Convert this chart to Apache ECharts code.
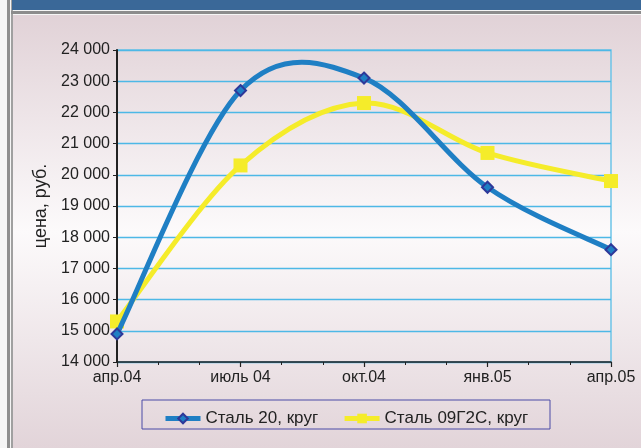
<!DOCTYPE html>
<html><head><meta charset="utf-8">
<script src="https://cdn.jsdelivr.net/npm/echarts@6/dist/echarts.min.js"></script>
<style>html,body{margin:0;padding:0;background:#f5f5f5}#c{width:641px;height:448px}</style>
</head><body><div id="c"></div>
<script>
var monthLabels = ['апр.04','','','июль 04','','','окт.04','','','янв.05','','','апр.05'];
var pointMonths = [0, 3, 6, 9, 12];
var steel20 = [14900, 22700, 23100, 19600, 17600];
var steel09 = [15300, 20300, 22300, 20700, 19800];
var seriesNames = ['Сталь 20, круг', 'Сталь 09Г2С, круг'];
var yTicks = {min: 14000, max: 24000, interval: 1000};

function pairs(xs, ys){ return xs.map(function(x,i){ return [x, ys[i]]; }); }
function fmt(v){ return String(v).replace(/\B(?=(\d{3})+(?!\d))/g, ' '); }

// Excel-style (Catmull-Rom) smoothed curve through the data, positioned by the chart's scales
function curveSeries(data, color, z){
  return {
    type: 'custom', silent: true, z: z, data: data, encode: {x: 0, y: 1},
    renderItem: function(params, api){
      if (params.dataIndex !== 0) return null;
      var p = data.map(function(d){ return api.coord(d); });
      var n = p.length, s = 'M' + p[0][0] + ' ' + p[0][1];
      for (var i = 0; i < n - 1; i++){
        var p0 = p[Math.max(i-1,0)], p1 = p[i], p2 = p[i+1], p3 = p[Math.min(i+2,n-1)];
        var c1 = [p1[0] + (p2[0]-p0[0])/6, p1[1] + (p2[1]-p0[1])/6];
        var c2 = [p2[0] - (p3[0]-p1[0])/6, p2[1] - (p3[1]-p1[1])/6];
        s += ' C' + c1[0] + ' ' + c1[1] + ' ' + c2[0] + ' ' + c2[1] + ' ' + p2[0] + ' ' + p2[1];
      }
      return {type: 'path', shape: {pathData: s}, style: {fill: 'none', stroke: color, lineWidth: 5, lineJoin: 'round', lineCap: 'round'}};
    }
  };
}

var chart = echarts.init(document.getElementById('c'));
var font = 'Liberation Sans, Arial, sans-serif';
var d20 = pairs(pointMonths, steel20), d09 = pairs(pointMonths, steel09);
chart.setOption({
  animation: false,
  textStyle: {fontFamily: font},
  graphic: [
    {type:'rect', z:-10, shape:{x:0,y:0,width:641,height:448}, style:{fill:'#f5f5f5'}},
    {type:'rect', z:-9, shape:{x:13,y:15,width:628,height:433}, style:{fill:{type:'linear',x:0,y:0,x2:0,y2:1,colorStops:[{offset:0,color:'#e1d2d7'},{offset:0.5,color:'#fcfafb'},{offset:1,color:'#e2d4d9'}]}}},
    {type:'rect', z:-8, shape:{x:7,y:0,width:3,height:448}, style:{fill:'#8e8e8e'}},
    {type:'rect', z:-8, shape:{x:11,y:0,width:2,height:448}, style:{fill:'#a0a0a0'}},
    {type:'rect', z:-8, shape:{x:12,y:0,width:629,height:10}, style:{fill:'#3a6898'}},
    {type:'rect', z:-8, shape:{x:11,y:11,width:630,height:3}, style:{fill:'#8c8c8c'}},
    {type:'rect', z:-7, shape:{x:142,y:400,width:408,height:29}, style:{fill:'none', stroke:'#4b4ba6', lineWidth:1}}
  ],
  grid: {left:117, right:30, top:50, bottom:86, show:true, borderColor:'#6cc4e8', borderWidth:1.5, backgroundColor:'transparent'},
  legend: {
    data: [
      {name: seriesNames[0], lineStyle: {color:'#1f7fc4', width:5, opacity:1}},
      {name: seriesNames[1], lineStyle: {color:'#f5ec2a', width:5, opacity:1}}
    ],
    left: 158, top: 405, itemWidth: 35, itemHeight: 12, itemGap: 24,
    textStyle: {fontSize: 17, color: '#222', fontFamily: font}
  },
  xAxis: {
    type: 'value', min: 0, max: 12, interval: 3,
    axisLine: {show:true, onZero:false, lineStyle:{color:'#222', width:1.5}},
    axisTick: {show:true, length:5, lineStyle:{color:'#222', width:1.2}},
    minorTick: {show:true, splitNumber:3, length:3, lineStyle:{color:'#222', width:1}},
    splitLine: {show:false},
    axisLabel: {color:'#222', fontSize:16, margin:8, formatter: function(v){ return monthLabels[v] || ''; }}
  },
  yAxis: {
    type: 'value', min: yTicks.min, max: yTicks.max, interval: yTicks.interval,
    name: 'цена, руб.', nameLocation: 'middle', nameGap: 54, nameRotate: 90,
    nameTextStyle: {fontSize: 18, color: '#222', fontFamily: font},
    axisLine: {show:true, lineStyle:{color:'#222', width:2}},
    axisTick: {show:true, length:4, lineStyle:{color:'#222', width:1}},
    splitLine: {show:true, lineStyle:{color:'#4db8e6', width:1.3}},
    axisLabel: {color:'#222', fontSize:16, margin:7, formatter: fmt}
  },
  series: [
    curveSeries(d09, '#f5ec2a', 1),
    {name: seriesNames[1], type:'line', data: d09,
     lineStyle:{opacity:0}, itemStyle:{color:'#f5ec2a', borderWidth:0},
     symbol:'rect', symbolSize:14, z:2},
    curveSeries(d20, '#1f7fc4', 3),
    {name: seriesNames[0], type:'line', data: d20,
     lineStyle:{opacity:0}, itemStyle:{color:'#1f7fc4', borderColor:'#2e3899', borderWidth:2},
     symbol:'diamond', symbolSize:11, z:4}
  ]
});
</script></body></html>
